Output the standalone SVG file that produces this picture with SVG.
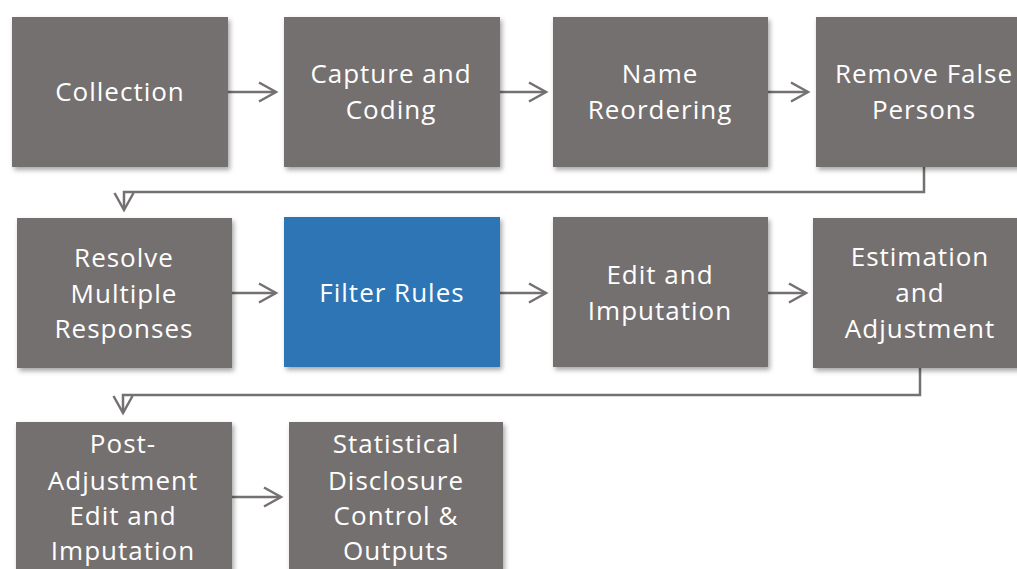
<svg xmlns="http://www.w3.org/2000/svg" width="1017" height="569" viewBox="0 0 1017 569">
<style>
.box{fill:#747070;filter:url(#sh)}
.blue{fill:#2E74B5;filter:url(#sh)}
.t{font-family:"Open Sans","Liberation Sans",sans-serif;font-size:26px;letter-spacing:1px;fill:#ffffff;text-anchor:middle}
.c{fill:none;stroke:#767171;stroke-width:2.5}
</style>
<defs>
<filter id="sh" x="-10%" y="-10%" width="130%" height="130%">
<feDropShadow dx="2" dy="3" stdDeviation="2.5" flood-color="#000" flood-opacity="0.35"/>
</filter>
<marker id="ah" markerWidth="22" markerHeight="24" refX="19" refY="11" orient="auto" markerUnits="userSpaceOnUse">
<path d="M2 1.5 L19 11 L2 20.5" fill="none" stroke="#767171" stroke-width="2.5"/>
</marker>
</defs>
<rect width="1017" height="569" fill="#fff"/>
<g id="connectors">
<path class="c" d="M228 92 H276" marker-end="url(#ah)"/>
<path class="c" d="M500 92 H546" marker-end="url(#ah)"/>
<path class="c" d="M768 92 H808" marker-end="url(#ah)"/>
<path class="c" d="M924 167 V192 H124 V210" marker-end="url(#ah)"/>
<path class="c" d="M232 293 H276" marker-end="url(#ah)"/>
<path class="c" d="M500 293 H546" marker-end="url(#ah)"/>
<path class="c" d="M768 293 H806" marker-end="url(#ah)"/>
<path class="c" d="M920 368 V395 H123 V413" marker-end="url(#ah)"/>
<path class="c" d="M232 497 H281" marker-end="url(#ah)"/>
</g>
<g id="n1"><rect class="box" x="12" y="17" width="216" height="150"/><text class="t" x="120" y="101">Collection</text></g>
<g id="n2"><rect class="box" x="284" y="17" width="216" height="150"/><text class="t" x="391" y="83">Capture and</text><text class="t" x="391" y="119">Coding</text></g>
<g id="n3"><rect class="box" x="553" y="17" width="215" height="150"/><text class="t" x="660" y="83">Name</text><text class="t" x="660" y="119">Reordering</text></g>
<g id="n4"><rect class="box" x="816" y="17" width="216" height="150"/><text class="t" x="924" y="83">Remove False</text><text class="t" x="924" y="119">Persons</text></g>
<g id="n5"><rect class="box" x="17" y="218" width="215" height="150"/><text class="t" x="124" y="267">Resolve</text><text class="t" x="124" y="303">Multiple</text><text class="t" x="124" y="338">Responses</text></g>
<g id="n6"><rect class="blue" x="284" y="217" width="216" height="150"/><text class="t" x="392" y="302">Filter Rules</text></g>
<g id="n7"><rect class="box" x="553" y="217" width="215" height="150"/><text class="t" x="660" y="284">Edit and</text><text class="t" x="660" y="320">Imputation</text></g>
<g id="n8"><rect class="box" x="813" y="218" width="216" height="150"/><text class="t" x="920" y="266">Estimation</text><text class="t" x="920" y="302">and</text><text class="t" x="920" y="338">Adjustment</text></g>
<g id="n9"><rect class="box" x="16" y="422" width="216" height="160"/><text class="t" x="123" y="453">Post-</text><text class="t" x="123" y="490">Adjustment</text><text class="t" x="123" y="525">Edit and</text><text class="t" x="123" y="560">Imputation</text></g>
<g id="n10"><rect class="box" x="289" y="422" width="214" height="160"/><text class="t" x="396" y="453">Statistical</text><text class="t" x="396" y="490">Disclosure</text><text class="t" x="396" y="525">Control &amp;</text><text class="t" x="396" y="560">Outputs</text></g>
</svg>
